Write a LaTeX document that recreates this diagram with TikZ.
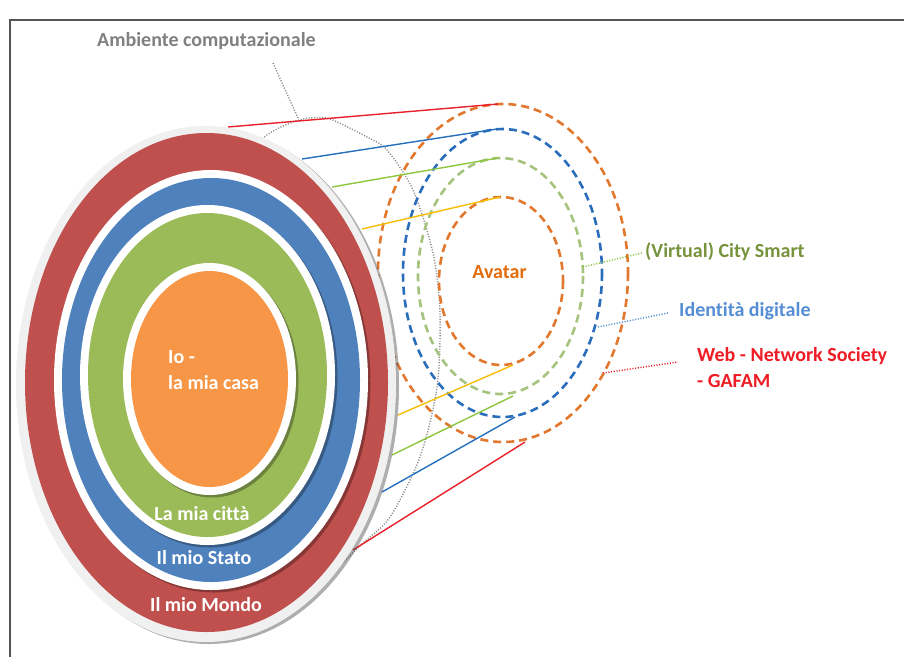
\documentclass[tikz,border=0pt]{standalone}
\usepackage{fontspec}
\setmainfont{Carlito}[Ligatures=NoCommon]
\usetikzlibrary{shadows}
\definecolor{cred}{HTML}{C0504D}
\definecolor{cblue}{HTML}{4F81BD}
\definecolor{cgreen}{HTML}{9BBB59}
\definecolor{corange}{HTML}{F79646}
\definecolor{crim}{HTML}{F0F0F0}
\definecolor{dorange}{HTML}{E2772E}
\definecolor{dblue}{HTML}{2A6EBB}
\definecolor{dgreen}{HTML}{A5C37C}
\definecolor{lred}{HTML}{E8202A}
\definecolor{lblue}{HTML}{2470BC}
\definecolor{lgreen}{HTML}{8DC63F}
\definecolor{lyellow}{HTML}{F6BE00}
\definecolor{tgray}{HTML}{808080}
\definecolor{tgreen}{HTML}{77933C}
\definecolor{tblue}{HTML}{558ED5}
\definecolor{tred}{HTML}{EE1C25}
\definecolor{torange}{HTML}{E46C0A}
\definecolor{framec}{HTML}{555555}
\begin{document}
\begin{tikzpicture}[x=1pt,y=-1pt,
  lbl/.style={font=\fontsize{20}{26}\selectfont\bfseries, inner sep=0pt},
  dashring/.style={line width=2.6pt, dash pattern=on 8pt off 5pt},
  link/.style={line width=1.4pt},
  ptr/.style={line width=1.4pt, dash pattern=on 1.1pt off 1.6pt},
  ringshadow/.style={drop shadow={shadow xshift=2.5pt, shadow yshift=-2.5pt, opacity=0.3, fill=black}},
  ]
\useasboundingbox (0,0) rectangle (904,657);
\fill[white] (0,0) rectangle (904,657);
\draw[framec, line width=1.5pt] (904,20) -- (10,20) -- (10,657);

% dotted "Ambiente computazionale" contour
\draw[tgray!90, ptr] plot[smooth] coordinates {(235,165) (267,135) (293,122) (310,118) (330,119) (367,137) (387,150) (413,190) (433,253) (440,313) (437,387) (420,457) (390,517) (363,543) (335,570)};
\coordinate (ambstart) at (273,63);
\coordinate (ambtip) at (298,118);
\draw[tgray!90, ptr] (ambstart) -- (ambtip);

% dashed rings
\draw[dorange, dashring] (503,273) ellipse [x radius=125, y radius=169];
\draw[dblue, dashring] (502.5,273) ellipse [x radius=99.5, y radius=144];
\draw[dgreen, dashring] (500.5,276) ellipse [x radius=82.5, y radius=118];
\draw[dorange, dashring] (501,281) ellipse [x radius=62, y radius=84];

% connector end points
\coordinate (sRt) at (228,127);  \coordinate (eRt) at (498,104);
\coordinate (sBt) at (302,159);  \coordinate (eBt) at (497,129);
\coordinate (sGt) at (332,187);  \coordinate (eGt) at (498,158);
\coordinate (sYt) at (362,229);  \coordinate (eYt) at (500,197);
\coordinate (sYb) at (398,415);  \coordinate (eYb) at (513,365);
\coordinate (sGb) at (392,455);  \coordinate (eGb) at (513,396);
\coordinate (sBb) at (382,492);  \coordinate (eBb) at (515,417);
\coordinate (sRb) at (353,550);  \coordinate (eRb) at (525,442);
\draw[lred, link] (sRt) -- (eRt);
\draw[lblue, link] (sBt) -- (eBt);
\draw[lgreen, link] (sGt) -- (eGt);
\draw[lyellow, link] (sYt) -- (eYt);
\draw[lyellow, link] (sYb) -- (eYb);
\draw[lgreen, link] (sGb) -- (eGb);
\draw[lblue, link] (sBb) -- (eBb);
\draw[lred, link] (sRb) -- (eRb);

% label pointers
\coordinate (pG1) at (583,267); \coordinate (pG2) at (642,253);
\coordinate (pB1) at (598,327); \coordinate (pB2) at (668,313);
\coordinate (pR1) at (603,373); \coordinate (pR2) at (678,362);
\draw[lgreen, ptr] (pG1) -- (pG2);
\draw[tblue, ptr] (pB1) -- (pB2);
\draw[lred, ptr] (pR1) -- (pR2);

% nested ellipses
\fill[crim, drop shadow={shadow xshift=3pt, shadow yshift=-2pt, opacity=0.45, fill=black!70}] (206,384) ellipse [x radius=190, y radius=258];
\fill[cred] (206.5,382.5) ellipse [x radius=181.5, y radius=249.5];
\fill[white, ringshadow] (211,380) ellipse [x radius=157, y radius=210];
\fill[cblue] (211,380) ellipse [x radius=149, y radius=202];
\fill[white, ringshadow] (207.5,375) ellipse [x radius=127.5, y radius=170];
\fill[cgreen] (207.5,375) ellipse [x radius=119.5, y radius=162];
\fill[white, ringshadow] (209.5,379) ellipse [x radius=86.5, y radius=116];
\fill[corange] (209.5,379) ellipse [x radius=78.5, y radius=108];

% labels
\node[lbl, text=white, anchor=west, align=left] (casa) at (168,370) {Io -\\la mia casa};
\node[lbl, text=white] (citta) at (202,514) {La mia città};
\node[lbl, text=white] (stato) at (204,558) {Il mio Stato};
\node[lbl, text=white] (mondo) at (206,605) {Il mio Mondo};
\node[lbl, text=tgray, anchor=west] (amb) at (97,41) {Ambiente computazionale};
\node[lbl, text=torange] (avatar) at (499.5,272) {Avatar};
\node[lbl, text=tgreen, anchor=west] (city) at (645,252) {(Virtual) City Smart};
\node[lbl, text=tblue, anchor=west] (ident) at (679,311) {Identità digitale};
\node[lbl, text=tred, anchor=west, align=left] (web) at (697,368) {Web - Network Society\\- GAFAM};
\end{tikzpicture}
\end{document}
